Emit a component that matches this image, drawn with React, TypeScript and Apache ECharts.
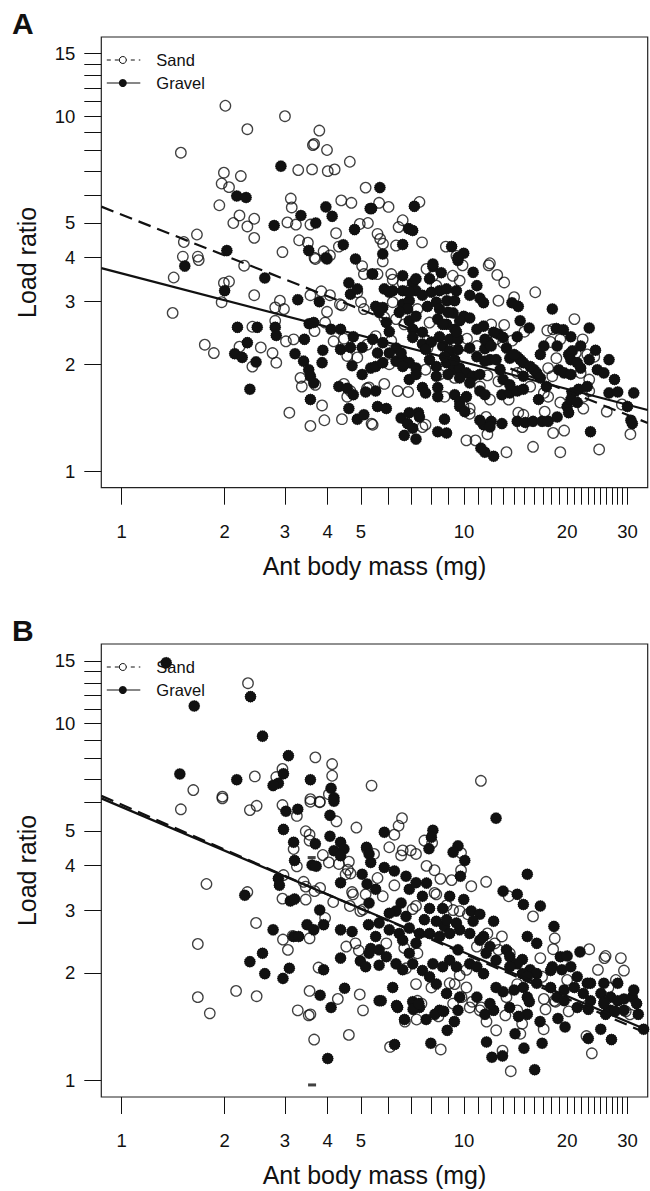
import React, { useEffect, useRef } from 'react';
import * as echarts from 'echarts';

// ---------- axis ticks / labels ----------
const X_TICKS = [1, 2, 3, 4, 5, 6, 7, 8, 9, 10, 11, 12, 13, 14, 15, 16, 17, 18, 19, 20, 21, 22, 23, 24, 25, 26, 27, 28, 29, 30];
const X_LABELS = [1, 2, 3, 4, 5, 10, 20, 30];
const Y_TICKS = [1, 2, 3, 4, 5, 6, 7, 8, 9, 10, 11, 12, 13, 14, 15];
const Y_LABELS = [1, 2, 3, 4, 5, 10, 15];
const X_LIMITS = [1, 30];
const Y_LIMITS = [1, 15];
const LEGEND_NAMES = ['Sand', 'Gravel'];
const PANEL_NAMES = ['A', 'B'];
const X_TITLE = 'Ant body mass (mg)';
const Y_TITLE = 'Load ratio';

// ---------- Panel A ----------
const A_SAND = [
  [2.01, 10.7], [3.0, 10.0], [2.33, 9.19], [3.78, 9.11], [3.62, 8.29], [3.65, 8.35], [3.98, 8.03], [1.49, 7.89], [4.64, 7.44], [3.28, 7.05],
  [3.6, 7.08], [4.0, 7.0], [4.19, 7.08], [1.99, 6.93], [2.23, 6.78], [1.96, 6.46], [2.06, 6.31], [5.16, 6.29], [3.12, 5.86], [4.38, 5.79],
  [4.69, 5.7], [1.93, 5.61], [3.14, 5.53], [2.21, 5.25], [2.44, 5.14], [2.12, 5.0], [2.33, 4.89], [3.05, 5.02], [3.23, 4.95], [3.56, 4.95],
  [4.96, 4.97], [5.24, 5.0], [4.23, 4.68], [1.66, 4.64], [1.52, 4.42], [2.44, 4.54], [3.3, 4.47], [3.5, 4.4], [4.31, 4.29], [2.95, 4.14],
  [3.89, 4.16], [4.06, 4.05], [1.51, 4.02], [1.67, 4.02], [1.68, 3.93], [3.66, 3.99],
  [1.42, 3.51], [2.28, 3.79], [1.99, 3.39], [2.06, 3.42], [1.96, 2.99], [2.44, 3.13], [1.41, 2.79], [2.9, 3.02], [2.81, 2.89], [2.98, 2.86],
  [3.56, 3.13], [3.83, 3.21], [4.06, 3.13], [4.34, 2.95], [3.98, 2.81], [2.81, 2.65], [3.66, 2.48], [2.41, 2.55], [1.75, 2.27], [1.86, 2.15],
  [2.21, 2.24], [2.55, 2.23], [2.76, 2.15], [2.83, 2.02], [2.41, 1.97], [3.02, 2.32], [3.18, 2.35], [3.33, 1.83], [3.36, 1.73], [3.68, 1.75],
  [3.85, 1.53], [3.09, 1.46], [3.56, 1.34], [3.91, 1.39], [4.46, 1.76], [4.66, 1.68], [4.56, 1.62], [5.21, 1.71], [4.4, 1.4], [5.37, 1.36],
  [4.16, 2.32], [4.46, 2.36], [4.56, 2.11], [4.88, 2.09], [5.21, 2.27], [3.68, 3.96], [5.04, 3.78], [5.1, 3.59], [4.88, 3.19], [5.0, 2.99],
  [5.1, 2.86], [4.4, 2.93], [3.93, 2.62],
  [5.79, 3.9], [5.59, 3.59], [6.13, 3.59], [6.19, 3.46], [7.77, 3.71], [8.11, 3.55], [9.9, 3.8], [11.8, 3.8], [12.5, 3.57], [13.1, 3.4],
  [9.27, 3.55], [9.71, 3.44], [6.62, 3.39], [8.3, 3.33], [16.14, 3.19], [12.6, 3.02], [14.0, 3.09], [6.19, 2.99], [7.31, 2.86], [21.0, 2.68],
  [22.2, 2.35], [15.0, 2.47], [12.0, 2.59], [13.1, 2.58], [17.5, 2.49], [18.2, 2.51], [19.1, 2.35], [17.9, 2.31], [5.85, 2.71], [6.33, 2.68],
  [6.69, 2.59], [7.93, 2.62], [5.52, 2.4], [6.13, 2.33], [7.82, 2.22], [9.39, 2.33], [10.2, 2.36], [10.9, 2.25], [12.4, 2.35], [13.0, 2.3],
  [13.8, 2.33], [18.6, 2.08], [21.2, 2.15], [22.9, 2.13], [24.0, 2.1], [6.05, 2.0], [7.72, 1.93], [8.48, 1.87], [9.39, 1.83], [11.12, 1.73],
  [11.7, 1.86], [12.6, 1.79], [14.3, 1.89], [14.8, 1.91], [17.6, 1.95], [18.1, 1.85], [21.9, 1.89], [23.2, 1.81], [5.28, 1.72], [5.85, 1.76],
  [6.4, 1.68], [6.87, 1.67], [8.77, 1.62], [10.39, 1.5], [9.96, 1.52], [11.9, 1.59], [13.5, 1.59], [15.6, 1.73], [17.1, 1.66], [17.6, 1.62],
  [19.1, 1.56], [22.3, 1.62], [23.2, 1.68], [22.3, 1.5], [28.9, 1.54], [26.1, 1.47], [30.6, 1.27], [24.8, 1.15], [19.1, 1.13], [18.2, 1.28],
  [19.6, 1.3], [15.9, 1.17], [13.3, 1.13], [10.16, 1.22], [10.8, 1.22], [11.7, 1.27], [11.6, 1.42], [14.8, 1.33], [14.4, 1.46], [14.9, 1.44],
  [17.2, 1.47], [7.72, 1.35], [7.56, 1.33], [5.41, 1.35], [10.39, 1.45],
  [5.65, 5.7], [6.02, 5.55], [7.41, 5.73], [6.62, 5.09], [6.44, 4.87], [5.59, 4.66], [5.69, 4.51], [5.8, 4.37], [6.33, 4.32], [7.54, 4.41],
  [8.85, 4.29], [9.5, 4.04], [11.9, 3.85],
];

const A_GRAVEL = [
  [2.92, 7.23], [2.17, 5.96], [2.31, 5.9], [3.95, 5.55], [5.32, 5.49], [4.12, 5.22], [3.34, 5.25], [3.69, 5.0], [2.79, 4.92], [4.79, 4.79],
  [3.52, 4.18], [4.44, 4.34], [2.03, 4.18], [3.95, 3.99], [4.82, 3.96],
  [1.53, 3.78], [2.62, 3.5], [2.0, 3.22], [3.27, 3.04], [3.78, 3.0], [3.53, 2.6], [3.64, 2.62], [2.18, 2.54], [2.49, 2.54], [2.81, 2.54],
  [2.83, 2.41], [2.33, 2.3], [2.14, 2.14], [2.25, 2.09], [2.47, 2.03], [3.21, 2.14], [3.42, 2.35], [3.4, 2.04], [3.52, 1.93], [3.56, 1.85],
  [3.64, 1.77], [3.85, 2.02], [3.87, 2.19], [2.37, 1.7], [3.56, 1.59], [4.31, 1.73], [4.56, 1.71], [4.75, 1.64], [5.16, 1.67], [4.61, 1.5],
  [4.88, 1.4], [5.1, 1.44], [4.09, 2.51], [4.36, 2.51], [4.75, 2.39], [5.04, 2.23], [4.71, 1.98], [5.04, 1.87], [5.34, 1.95], [4.36, 2.2],
  [4.66, 2.23], [3.98, 3.96], [4.61, 3.39], [4.66, 3.15], [4.88, 3.26], [5.39, 3.59],
  [5.41, 3.59], [8.11, 3.77], [8.58, 3.62], [9.6, 3.92], [10.63, 3.63], [5.85, 3.26], [6.19, 3.22], [6.62, 3.22], [7.08, 3.39], [7.24, 3.22],
  [8.03, 3.19], [8.48, 3.22], [10.39, 3.13], [11.12, 3.07], [14.4, 2.91], [13.8, 2.98], [18.1, 2.86], [5.52, 2.91], [5.79, 2.89], [6.62, 2.95],
  [6.92, 3.02], [7.82, 2.91], [8.3, 2.99], [8.91, 3.02], [9.39, 3.02], [9.29, 2.79], [9.98, 2.73], [10.39, 2.7], [23.2, 2.53], [14.58, 2.65],
  [15.5, 2.53], [10.9, 2.51], [11.4, 2.56], [18.6, 2.52], [19.5, 2.5], [5.65, 2.8], [5.93, 2.62], [6.05, 2.47], [6.92, 2.65], [7.08, 2.51],
  [7.56, 2.46], [8.38, 2.68], [8.89, 2.59], [9.39, 2.51], [5.41, 2.35], [5.79, 2.3], [6.33, 2.22], [7.08, 2.38], [7.56, 2.28], [8.03, 2.31],
  [8.66, 2.25], [9.08, 2.18], [9.6, 2.2], [10.39, 2.22], [11.5, 2.21], [11.8, 2.3], [12.6, 2.43], [13.0, 2.38], [16.7, 2.13], [20.2, 2.13],
  [20.7, 2.18], [24.2, 2.19], [23.2, 2.06], [26.5, 2.06], [14.3, 2.1], [14.6, 2.06], [13.6, 2.08], [5.52, 1.97], [5.79, 2.02], [6.33, 2.04],
  [6.62, 2.06], [6.92, 2.02], [7.24, 1.95], [8.3, 1.97], [8.89, 2.02], [9.29, 1.93], [9.71, 1.95], [10.16, 1.89], [10.63, 1.85], [11.12, 1.87],
  [11.9, 2.06], [12.74, 1.93], [14.9, 1.85], [16.0, 1.93], [16.3, 1.89], [16.7, 1.83], [18.9, 1.93], [19.6, 1.89], [20.5, 1.87], [21.9, 1.95],
  [5.52, 1.68], [7.56, 1.72], [7.72, 1.66], [8.38, 1.72], [8.38, 1.62], [9.39, 1.64], [9.71, 1.57], [10.16, 1.62], [11.12, 1.68], [11.51, 1.64],
  [12.9, 1.64], [13.6, 1.66], [14.3, 1.68], [14.9, 1.7], [16.5, 1.59], [17.4, 1.73], [20.0, 1.52], [20.2, 1.46], [20.7, 1.66], [21.6, 1.7],
  [22.9, 1.73], [26.5, 1.66], [28.1, 1.67], [30.0, 1.52], [31.3, 1.66], [30.7, 1.39], [31.0, 1.36], [23.4, 1.29], [11.5, 1.13], [12.2, 1.1],
  [11.2, 1.16], [11.4, 1.35], [12.0, 1.38], [12.9, 1.36], [14.3, 1.38], [15.1, 1.37], [15.9, 1.38], [16.9, 1.38], [17.6, 1.38], [8.38, 1.29],
  [8.89, 1.28], [8.77, 1.4], [6.55, 1.41], [6.84, 1.36], [6.69, 1.26], [7.24, 1.23], [7.36, 1.46], [7.08, 1.32], [5.59, 1.52], [5.93, 1.5],
  [9.71, 1.52], [10.05, 1.47],
  [5.68, 6.29], [5.37, 5.49], [7.16, 5.57], [6.89, 4.82], [7.08, 4.76], [6.62, 4.35], [9.2, 4.29], [9.98, 4.11], [9.6, 4.0], [5.79, 4.09],
  [8.11, 3.83],
  [6.84, 2.86], [6.47, 2.8], [7.24, 2.73], [8.48, 2.86], [8.98, 2.8], [9.71, 2.65], [8.48, 2.39], [9.08, 2.35], [9.6, 2.35], [8.77, 2.1],
  [9.39, 2.06], [11.51, 2.35], [12.0, 2.25], [13.3, 2.22], [14.0, 2.13], [14.9, 2.02], [15.6, 1.97], [10.9, 2.1], [11.5, 2.04], [12.4, 2.06],
  [7.72, 2.2], [7.93, 2.06], [6.05, 2.15], [6.55, 2.15], [5.59, 2.15], [6.92, 1.81], [7.24, 1.87], [6.62, 1.97], [8.3, 1.85], [8.98, 1.87],
  [9.71, 1.83], [10.39, 1.77], [13.0, 1.81], [13.6, 1.75], [20.5, 2.06], [21.4, 2.02], [24.5, 1.93], [25.6, 1.89], [27.5, 1.81], [20.5, 1.59],
  [21.4, 1.56], [6.92, 3.19], [7.56, 3.13], [6.05, 3.19], [7.24, 3.48], [6.62, 3.55], [7.93, 3.48], [8.89, 3.26], [9.5, 3.22], [10.9, 3.33],
  [11.4, 2.98], [8.66, 2.59], [9.5, 2.47], [12.2, 2.46], [14.3, 2.39], [20.5, 2.39], [21.9, 2.25], [18.7, 2.25], [17.1, 2.25], [7.41, 1.42],
  [6.92, 1.46], [11.12, 1.39], [11.9, 1.33], [18.7, 1.42],
];

// fitted lines (end points at the plot edges)
const A_SAND_FIT = [[0.873, 5.56], [34.37, 1.366]];
const A_GRAVEL_FIT = [[0.873, 3.73], [34.37, 1.486]];

// ---------- Panel B ----------
const B_SAND = [
  [2.34, 12.98], [3.68, 8.04], [4.12, 7.7], [4.12, 7.14], [2.95, 7.46], [2.83, 7.08], [2.45, 7.11], [5.37, 6.7], [1.62, 6.51], [1.97, 6.24],
  [4.03, 6.34], [3.56, 6.14], [3.79, 6.04], [11.2, 6.91],
  [1.49, 5.75], [1.97, 6.17], [2.37, 5.72], [2.48, 5.88], [2.95, 5.91], [3.25, 5.51], [3.56, 6.04], [3.79, 6.02], [4.24, 5.32], [4.85, 5.11],
  [3.45, 4.99], [3.54, 4.88], [3.54, 4.7], [3.18, 4.45], [3.25, 3.98], [3.87, 4.28], [4.03, 4.08], [4.31, 4.04], [4.61, 4.1], [4.58, 3.89],
  [4.51, 3.78], [4.66, 3.8], [5.21, 4.45], [5.16, 3.32], [4.71, 3.37], [4.74, 3.32], [2.97, 3.76], [3.4, 3.6], [3.45, 3.49], [3.66, 3.39],
  [3.8, 3.46], [4.15, 3.16], [1.77, 3.55], [2.33, 3.37], [2.95, 3.23], [3.45, 3.21], [4.64, 3.08], [4.98, 2.98], [5.07, 3.01], [3.93, 2.85],
  [2.47, 2.76], [2.96, 2.48], [3.16, 2.54], [3.06, 2.32], [3.54, 2.5], [1.67, 2.41], [4.82, 2.42], [4.53, 2.37], [4.93, 2.31], [3.76, 2.07],
  [2.16, 1.78], [2.48, 1.72], [1.67, 1.71], [3.54, 1.78], [4.28, 1.69], [4.96, 1.74], [5.07, 1.57], [1.81, 1.54], [3.27, 1.57], [3.56, 1.53],
  [6.59, 5.43], [6.44, 5.17], [6.26, 4.88], [7.66, 4.7], [8.07, 4.63], [9.8, 4.34], [9.8, 3.88], [6.05, 4.5], [6.62, 4.41], [6.99, 4.41],
  [7.24, 4.31], [6.55, 4.27], [5.46, 4.31], [7.77, 3.99], [8.2, 3.88], [8.53, 3.67], [9.2, 3.64], [5.59, 3.69], [6.26, 3.52], [10.5, 3.5],
  [11.6, 3.6], [13.5, 3.28], [15.9, 2.88], [8.3, 3.32], [8.2, 3.35], [8.89, 3.09], [7.24, 3.08], [7.08, 3.02], [5.79, 3.28], [9.29, 3.0],
  [9.71, 2.98], [10.26, 2.92], [11.7, 2.58], [12.9, 2.53], [13.6, 2.27], [18.4, 2.5], [18.2, 2.33], [23.2, 2.33], [16.7, 2.2], [25.9, 2.23],
  [25.7, 2.2], [28.7, 2.2], [29.3, 2.03], [24.6, 2.04], [27.75, 1.91], [26.4, 1.82], [16.9, 1.95], [20.0, 1.91], [12.3, 2.42], [12.6, 2.32],
  [10.9, 2.37], [10.16, 2.04], [9.71, 1.97], [9.08, 1.87], [10.16, 1.82], [13.3, 1.71], [14.3, 1.86], [17.1, 1.69], [18.5, 1.66], [22.9, 1.62],
  [30.5, 1.53], [5.93, 2.42], [6.77, 2.06], [6.69, 2.35], [7.31, 2.27], [7.24, 1.86], [7.31, 1.67], [8.03, 1.82], [9.39, 1.86], [9.29, 1.64],
  [10.39, 1.6], [11.12, 1.57], [13.2, 1.52], [14.3, 1.57],
  [3.52, 1.52], [3.65, 1.3], [4.61, 1.34], [6.08, 1.24], [6.72, 1.46], [7.27, 1.48], [7.51, 1.64], [8.42, 1.51], [8.55, 1.22], [9.83, 1.71],
  [10.56, 1.66], [11.22, 1.6], [11.63, 1.46], [12.41, 1.38], [12.95, 1.21], [13.69, 1.06], [14.78, 1.44], [14.6, 1.35], [17.08, 1.39], [17.29, 1.58],
  [18.35, 1.67], [20.2, 1.56], [22.77, 1.33], [23.61, 1.19], [29.66, 1.56],
];

const B_GRAVEL = [
  [1.35, 14.8], [2.38, 11.9], [1.63, 11.2], [2.58, 9.22], [3.07, 8.13], [1.48, 7.22], [2.97, 7.23], [2.87, 6.8], [2.77, 6.7], [2.17, 6.96],
  [3.56, 6.96], [4.09, 6.59], [4.17, 6.19],
  [3.02, 5.68], [3.27, 5.75], [4.17, 6.06], [4.06, 5.53], [2.97, 5.05], [3.68, 4.6], [4.06, 4.83], [4.36, 4.65], [4.17, 4.4], [4.46, 4.45],
  [4.36, 4.26], [3.18, 4.65], [3.2, 4.13], [3.6, 4.01], [3.7, 3.98], [5.19, 4.5], [5.04, 3.78], [5.21, 3.55], [4.36, 3.58], [2.87, 3.68],
  [2.89, 3.52], [2.29, 3.3], [3.11, 3.18], [3.2, 3.22], [3.79, 3.0], [3.89, 2.73], [3.48, 2.73], [3.64, 2.64], [5.26, 2.73], [2.77, 2.64],
  [3.18, 2.53], [3.29, 2.53], [4.36, 2.64], [4.71, 2.61], [4.36, 2.2], [4.98, 2.16], [5.16, 2.08], [5.34, 2.34], [2.37, 2.15], [2.58, 2.27],
  [2.62, 1.99], [3.09, 2.06], [2.96, 1.93], [3.89, 2.04], [3.8, 1.73], [4.48, 1.81], [4.09, 1.6],
  [5.85, 4.96], [12.4, 5.43], [8.11, 5.02], [8.03, 4.8], [7.9, 4.46], [9.6, 4.54], [9.29, 4.36], [10.05, 4.13], [9.76, 3.73], [5.28, 4.31],
  [5.34, 4.08], [5.85, 3.95], [6.26, 3.86], [6.77, 3.73], [7.77, 3.57], [13.0, 3.39], [14.3, 3.32], [14.9, 3.11], [16.7, 3.08], [15.3, 3.78],
  [7.56, 3.28], [8.66, 3.03], [6.55, 3.14], [6.33, 2.98], [5.52, 3.43], [5.28, 3.14], [7.93, 3.03], [7.66, 2.82], [8.3, 2.79], [8.77, 2.7],
  [10.5, 2.98], [11.12, 2.92], [10.63, 2.79], [12.2, 2.79], [18.3, 2.7], [19.1, 2.22], [20.0, 2.23], [21.8, 2.29], [14.8, 2.18], [15.6, 2.04],
  [16.3, 1.99], [18.1, 2.08], [19.3, 2.04], [20.5, 2.08], [21.0, 1.82], [11.4, 2.53], [11.9, 2.37], [13.3, 2.32], [13.6, 2.22], [14.3, 2.12],
  [14.8, 1.99], [9.6, 2.32], [9.08, 2.17], [9.5, 2.08], [10.39, 2.12], [10.9, 2.08], [11.4, 1.99], [12.4, 1.82], [13.0, 1.77], [14.0, 1.79],
  [14.9, 1.82], [15.3, 1.71], [18.7, 1.71], [19.6, 1.67], [21.4, 1.6], [23.4, 1.87], [25.1, 1.75], [26.8, 1.71], [28.1, 1.67], [29.3, 1.69],
  [31.0, 1.71], [26.8, 1.57], [25.9, 1.53], [5.65, 2.32], [5.28, 2.27], [5.93, 2.22], [5.65, 2.1], [6.33, 2.12], [6.62, 2.04], [6.92, 2.27],
  [7.24, 2.42], [6.19, 1.82], [5.65, 1.67], [6.4, 1.6], [7.08, 1.66], [7.41, 1.6], [8.3, 1.86], [8.48, 1.57], [9.6, 1.57], [11.51, 1.53],
  [12.2, 1.57], [15.3, 1.53],
  [4.0, 1.15], [5.73, 1.67], [6.27, 1.26], [6.35, 1.62], [6.7, 1.48], [7.1, 1.58], [7.38, 1.64], [7.75, 1.48], [8.22, 1.53], [8.72, 1.56],
  [8.93, 1.38], [9.37, 1.46], [8.0, 1.27], [11.63, 1.28], [12.06, 1.16], [12.95, 1.17], [16.08, 1.07], [13.59, 1.6], [14.43, 1.51], [14.09, 1.35],
  [16.9, 1.27], [14.96, 1.23], [16.67, 1.46], [15.51, 1.66], [18.8, 1.49], [19.72, 1.41], [23.05, 1.58], [23.05, 1.31], [25.07, 1.39], [26.94, 1.3],
  [25.68, 1.66], [27.6, 1.56], [32.26, 1.53], [33.45, 1.39],
  [6.05, 2.64], [6.47, 2.58], [6.92, 2.67], [7.41, 2.58], [6.62, 2.47], [7.93, 2.58], [8.48, 2.53], [9.08, 2.58], [9.71, 2.64], [10.39, 2.58],
  [11.12, 2.47], [11.6, 2.27], [12.4, 2.17], [13.6, 2.08], [15.3, 1.95], [16.3, 1.87], [17.9, 1.82], [19.6, 1.79], [22.3, 1.75], [23.4, 1.67],
  [25.6, 1.64], [29.3, 1.57], [31.9, 1.64], [7.08, 2.12], [7.56, 2.03], [8.11, 2.12], [8.66, 2.08], [7.93, 1.95], [8.89, 1.75], [9.71, 1.71],
  [10.9, 1.71], [11.9, 1.64], [5.65, 2.76], [5.52, 2.53], [6.05, 2.94], [6.77, 2.88], [8.89, 2.82], [9.5, 2.76], [6.92, 3.43], [7.24, 3.58],
  [9.08, 3.28], [9.98, 3.21], [15.3, 2.53], [16.3, 2.42], [17.9, 2.03], [21.4, 1.95], [22.9, 1.87], [25.6, 1.87], [28.1, 1.87], [31.3, 1.79],
];

const B_DASHES = [[3.6, 0.97], [3.59, 4.21]];

const B_SAND_FIT = [[0.873, 6.27], [34.37, 1.35]];
const B_GRAVEL_FIT = [[0.873, 6.17], [34.37, 1.38]];

// ---------- helpers ----------
const lg = (v: number) => Math.log10(v);
const toLog = (pts: number[][]) => pts.map(([x, y]) => [lg(x), lg(y)]);

const INK = '#111111';
const FONT = '"Liberation Sans", Arial, Helvetica, sans-serif';

// jagged filled disc like the R raster dots
const GEAR = (() => {
  const n = 32;
  let d = '';
  for (let i = 0; i < n; i++) {
    const a = (i / n) * Math.PI * 2;
    const r = i % 2 ? 45 : 50;
    d += (i ? 'L' : 'M') + (50 + r * Math.cos(a)).toFixed(1) + ' ' + (50 + r * Math.sin(a)).toFixed(1);
  }
  return 'path://' + d + 'Z';
})();

export default function App() {
  const ref = useRef<HTMLDivElement>(null);

  useEffect(() => {
    if (!ref.current) return;
    const chart = echarts.init(ref.current, null, { renderer: 'svg' });

    const xExt = [lg(X_LIMITS[0]), lg(X_LIMITS[1])];
    const yExt = [lg(Y_LIMITS[0]), lg(Y_LIMITS[1])];
    const xPad = (xExt[1] - xExt[0]) * 0.04;
    const yPad = (yExt[1] - yExt[0]) * 0.04;

    const grids = [
      { left: 101.3, top: 37, width: 546.4, height: 450.7 },
      { left: 101.3, top: 644, width: 546.4, height: 453 },
    ];

    const panels = [
      { sand: A_SAND, gravel: A_GRAVEL, sandFit: A_SAND_FIT, gravelFit: A_GRAVEL_FIT, dashes: [] as number[][] },
      { sand: B_SAND, gravel: B_GRAVEL, sandFit: B_SAND_FIT, gravelFit: B_GRAVEL_FIT, dashes: B_DASHES },
    ];

    const fmt = (v: number) => String(Math.round(Math.pow(10, v)));

    const xAxis = grids.map((_, i) => ({
      type: 'value',
      gridIndex: i,
      min: xExt[0] - xPad,
      max: xExt[1] + xPad,
      axisLine: { show: false, onZero: false },
      splitLine: { show: false },
      axisTick: {
        show: true,
        inside: false,
        length: 17,
        customValues: X_TICKS.map(lg),
        lineStyle: { color: INK, width: 1 },
      },
      axisLabel: {
        show: true,
        customValues: X_LABELS.map(lg),
        formatter: fmt,
        margin: 34,
        color: INK,
        fontSize: 18.5,
        fontFamily: FONT,
      },
    }));

    const yAxis = grids.map((_, i) => ({
      type: 'value',
      gridIndex: i,
      min: yExt[0] - yPad,
      max: yExt[1] + yPad,
      axisLine: { show: false, onZero: false },
      splitLine: { show: false },
      axisTick: {
        show: true,
        inside: false,
        length: 17,
        customValues: Y_TICKS.map(lg),
        lineStyle: { color: INK, width: 1 },
      },
      axisLabel: {
        show: true,
        customValues: Y_LABELS.map(lg),
        formatter: fmt,
        margin: 26,
        color: INK,
        fontSize: 18.5,
        fontFamily: FONT,
      },
    }));

    const series: any[] = [];
    panels.forEach((p, i) => {
      series.push({
        type: 'scatter',
        name: LEGEND_NAMES[0],
        xAxisIndex: i,
        yAxisIndex: i,
        data: toLog(p.sand),
        symbol: 'circle',
        symbolSize: 10.5,
        itemStyle: { color: 'rgba(0,0,0,0)', borderColor: INK, borderWidth: 1.3 },
        z: 2,
      });
      series.push({
        type: 'scatter',
        name: LEGEND_NAMES[1],
        xAxisIndex: i,
        yAxisIndex: i,
        data: toLog(p.gravel),
        symbol: GEAR,
        symbolSize: 12,
        itemStyle: { color: INK, opacity: 1 },
        z: 3,
      });
      if (p.dashes.length) {
        series.push({
          type: 'scatter',
          xAxisIndex: i,
          yAxisIndex: i,
          data: toLog(p.dashes),
          symbol: 'rect',
          symbolSize: [8, 3],
          itemStyle: { color: INK },
          z: 3,
        });
      }
      series.push({
        type: 'line',
        xAxisIndex: i,
        yAxisIndex: i,
        data: toLog(p.sandFit),
        symbol: 'none',
        lineStyle: { color: INK, width: 2.2, type: [13, 7] },
        z: 4,
      });
      series.push({
        type: 'line',
        xAxisIndex: i,
        yAxisIndex: i,
        data: toLog(p.gravelFit),
        symbol: 'none',
        lineStyle: { color: INK, width: 2.2 },
        z: 4,
      });
    });

    const graphic: any[] = [];
    grids.forEach((g, i) => {
      const cx = g.left + g.width / 2;
      const cy = g.top + g.height / 2;
      const bottom = g.top + g.height;
      graphic.push({
        type: 'text',
        left: 12,
        top: g.top - 29,
        style: { text: PANEL_NAMES[i], font: `bold 30px ${FONT}`, fill: INK },
      });
      graphic.push({
        type: 'text',
        x: cx,
        y: bottom + 78,
        style: { text: X_TITLE, font: `25px ${FONT}`, fill: INK, textAlign: 'center', textVerticalAlign: 'middle' },
      });
      graphic.push({
        type: 'text',
        x: 27,
        y: cy,
        rotation: Math.PI / 2,
        style: { text: Y_TITLE, font: `25px ${FONT}`, fill: INK, textAlign: 'center', textVerticalAlign: 'middle' },
      });
      const ly1 = g.top + 23;
      const ly2 = g.top + 46;
      const lx0 = g.left + 5.5;
      const lx1 = g.left + 39;
      const lxc = g.left + 21.5;
      graphic.push({
        type: 'line',
        shape: { x1: lx0, y1: ly1, x2: lx1, y2: ly1 },
        style: { stroke: INK, lineWidth: 1, lineDash: [4, 4] },
      });
      graphic.push({
        type: 'circle',
        shape: { cx: lxc, cy: ly1, r: 3.5 },
        style: { fill: '#fff', stroke: INK, lineWidth: 1 },
      });
      graphic.push({
        type: 'line',
        shape: { x1: lx0, y1: ly2, x2: lx1, y2: ly2 },
        style: { stroke: INK, lineWidth: 1.2 },
      });
      graphic.push({
        type: 'circle',
        shape: { cx: lxc, cy: ly2, r: 4 },
        style: { fill: INK },
      });
      graphic.push({
        type: 'text',
        x: g.left + 55,
        y: ly1,
        style: { text: LEGEND_NAMES[0], font: `16.5px ${FONT}`, fill: INK, textVerticalAlign: 'middle' },
      });
      graphic.push({
        type: 'text',
        x: g.left + 55,
        y: ly2,
        style: { text: LEGEND_NAMES[1], font: `16.5px ${FONT}`, fill: INK, textVerticalAlign: 'middle' },
      });
    });

    chart.setOption({
      animation: false,
      backgroundColor: '#ffffff',
      grid: grids.map((g) => ({ ...g, show: true, borderColor: '#222', borderWidth: 1.2, backgroundColor: 'transparent', containLabel: false })),
      xAxis,
      yAxis,
      series,
      graphic,
    });

    return () => chart.dispose();
  }, []);

  return (
    <div
      ref={ref}
      style={{ position: 'absolute', left: 0, top: 0, width: 650, height: 1191, background: '#fff' }}
    />
  );
}
